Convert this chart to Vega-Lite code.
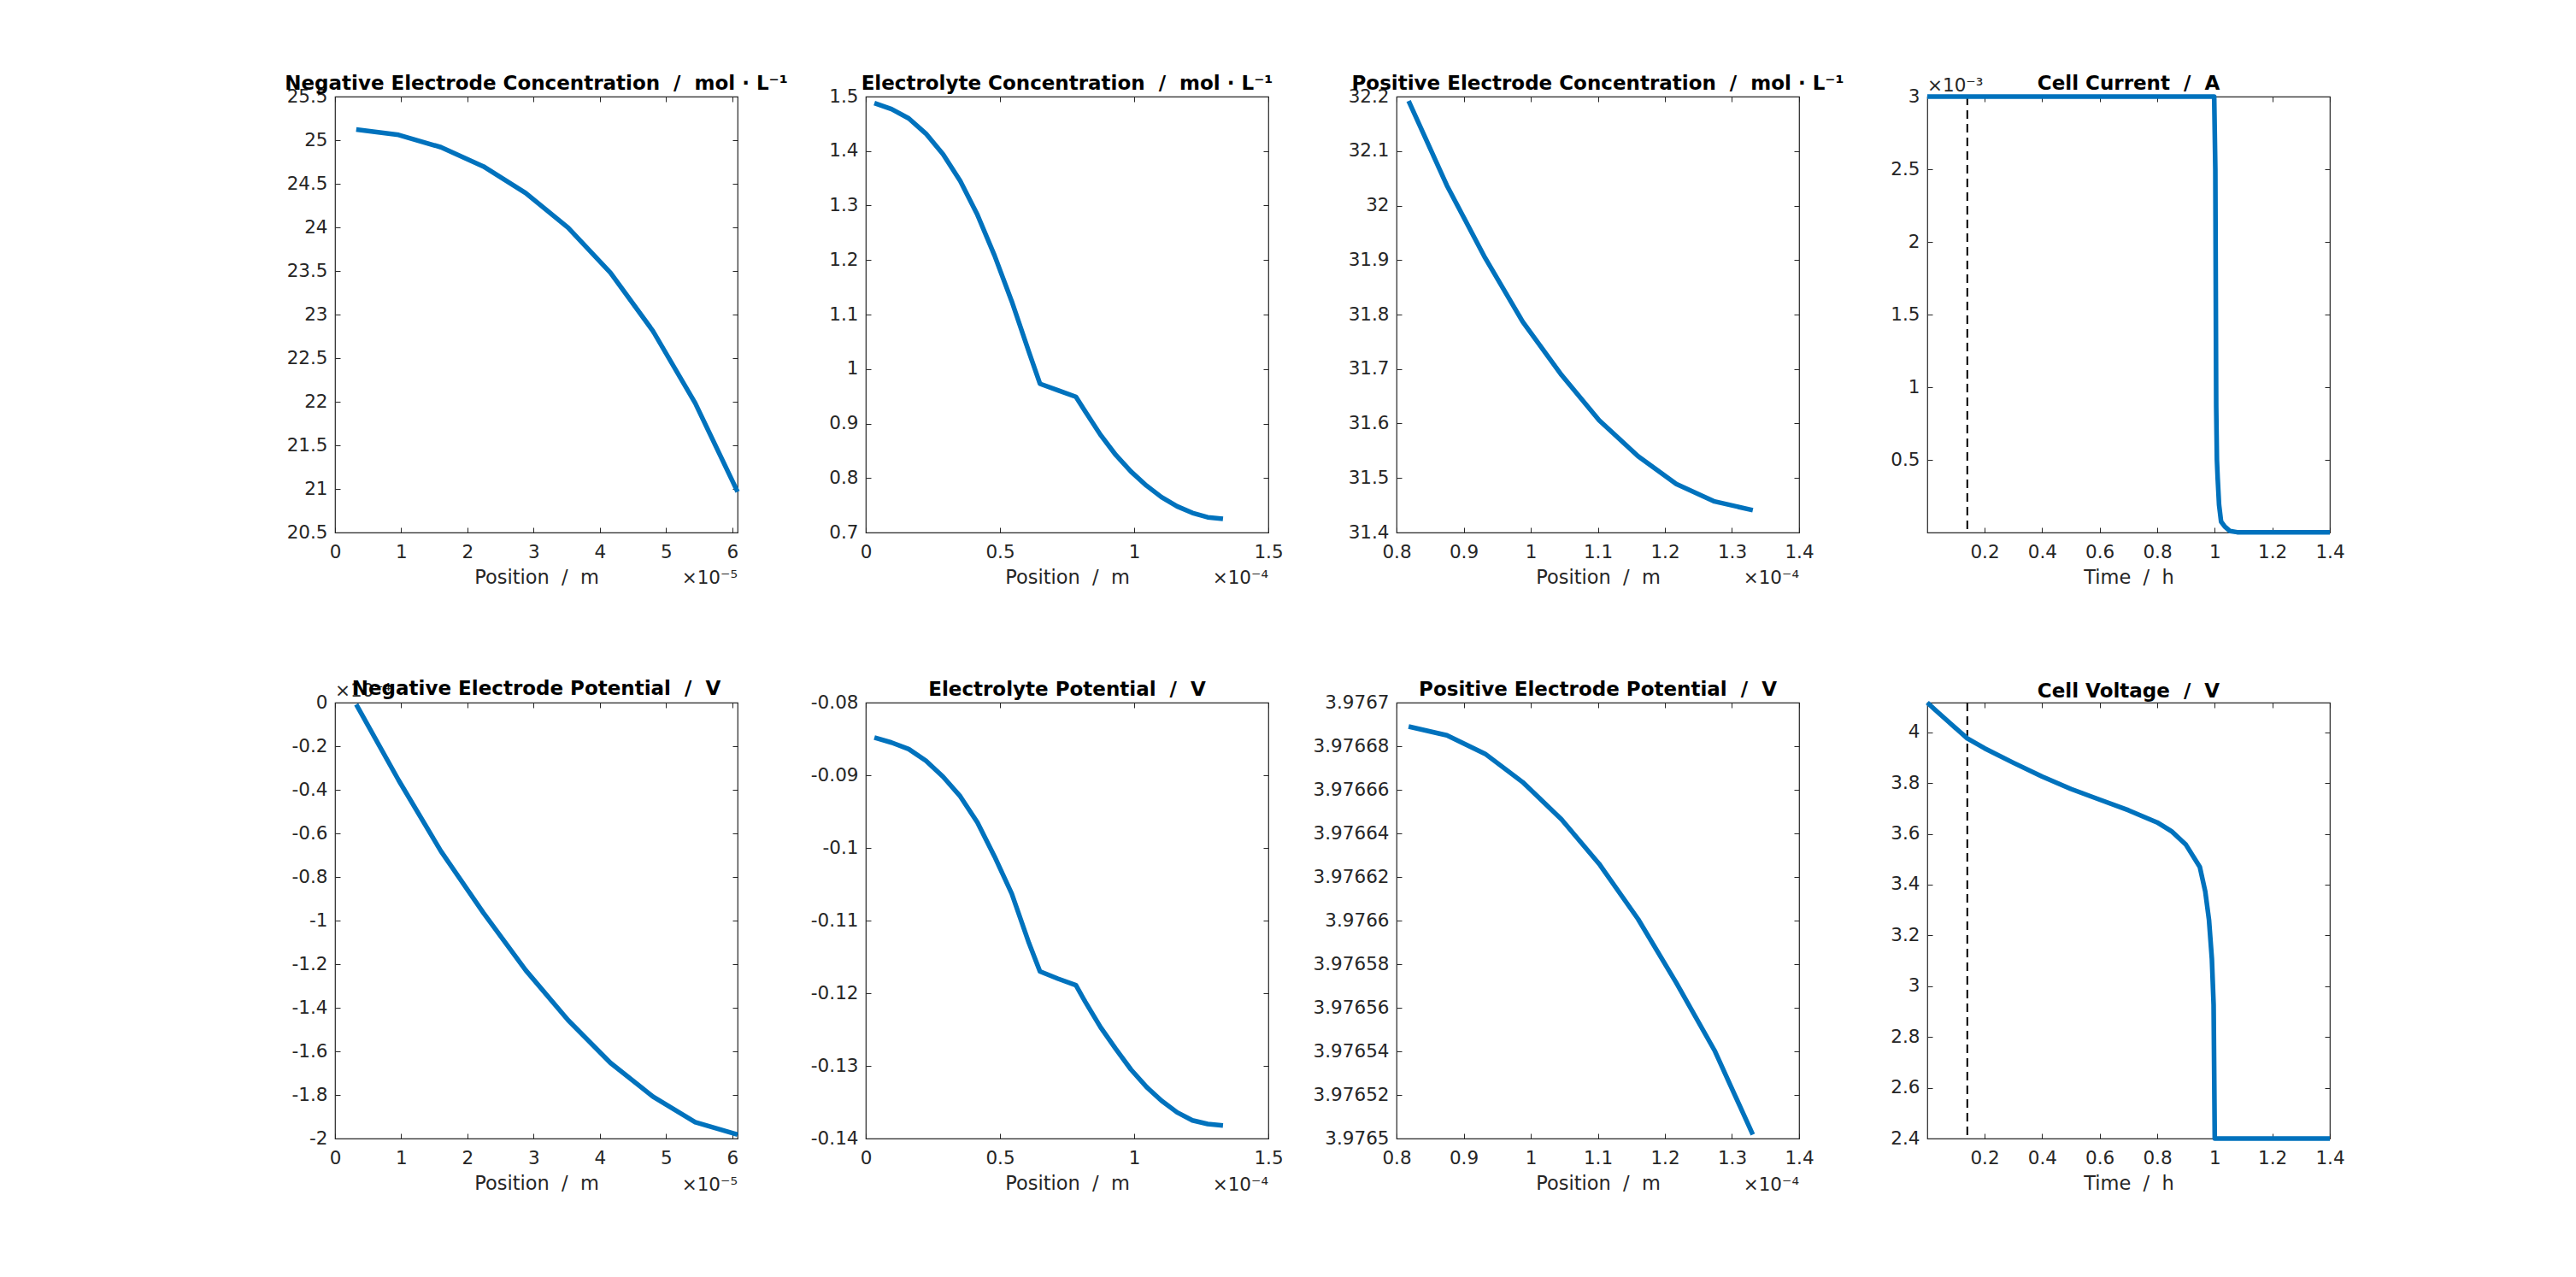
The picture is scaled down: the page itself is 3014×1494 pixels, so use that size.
{
  "$schema": "https://vega.github.io/schema/vega-lite/v6.json",
  "background": "white",
  "autosize": {"type": "pad"},
  "padding": {"left": 332, "top": 85, "right": 10, "bottom": 10},
  "columns": 4,
  "bounds": "flush",
  "spacing": {"row": 199, "column": 150},
  "config": {
    "font": "DejaVu Sans",
    "view": {"stroke": "#262626", "strokeWidth": 1.2},
    "axis": {
      "domain": false, "grid": false, "ticks": true, "tickSize": -6, "tickColor": "#262626", "tickWidth": 1,
      "labelFont": "DejaVu Sans", "labelFontSize": 21.5, "labelColor": "#262626",
      "labelFlush": false, "labelOverlap": false, "labelBound": false,
      "titleFont": "DejaVu Sans", "titleFontSize": 22.5, "titleFontWeight": "normal", "titleColor": "#262626"
    },
    "axisBottom": {"labelPadding": 18, "titlePadding": 8},
    "axisLeft": {"labelPadding": 15},
    "title": {"font": "DejaVu Sans", "fontSize": 23, "fontWeight": "bold", "color": "black", "anchor": "middle", "frame": "group", "baseline": "alphabetic", "offset": -7.5},
    "text": {"font": "DejaVu Sans", "fontSize": 21.5, "color": "#262626"},
    "line": {"color": "#0072BD", "strokeWidth": 5.5, "strokeJoin": "round"}
  },
  "datasets": {
    "negConc": [
      {"position": 3.2e-6, "concentration": 25.122},
      {"position": 9.6e-6, "concentration": 25.061},
      {"position": 1.6e-5, "concentration": 24.919},
      {"position": 2.24e-5, "concentration": 24.699},
      {"position": 2.88e-5, "concentration": 24.394},
      {"position": 3.52e-5, "concentration": 23.996},
      {"position": 4.16e-5, "concentration": 23.48},
      {"position": 4.8e-5, "concentration": 22.813},
      {"position": 5.44e-5, "concentration": 21.984},
      {"position": 6.08e-5, "concentration": 20.967}
    ],
    "elyteConc": [
      {"position": 3.2e-6, "concentration": 1.488},
      {"position": 9.6e-6, "concentration": 1.477},
      {"position": 1.6e-5, "concentration": 1.46},
      {"position": 2.24e-5, "concentration": 1.432},
      {"position": 2.88e-5, "concentration": 1.394},
      {"position": 3.52e-5, "concentration": 1.345},
      {"position": 4.16e-5, "concentration": 1.283},
      {"position": 4.8e-5, "concentration": 1.208},
      {"position": 5.44e-5, "concentration": 1.124},
      {"position": 6.08e-5, "concentration": 1.031},
      {"position": 6.49e-5, "concentration": 0.973},
      {"position": 7.16e-5, "concentration": 0.961},
      {"position": 7.83e-5, "concentration": 0.949},
      {"position": 8.18e-5, "concentration": 0.922},
      {"position": 8.75e-5, "concentration": 0.879},
      {"position": 9.32e-5, "concentration": 0.842},
      {"position": 9.88e-5, "concentration": 0.812},
      {"position": 1.046e-4, "concentration": 0.786},
      {"position": 1.102e-4, "concentration": 0.765},
      {"position": 1.16e-4, "concentration": 0.748},
      {"position": 1.217e-4, "concentration": 0.736},
      {"position": 1.274e-4, "concentration": 0.728},
      {"position": 1.331e-4, "concentration": 0.725}
    ],
    "posConc": [
      {"position": 8.18e-5, "concentration": 32.192},
      {"position": 8.75e-5, "concentration": 32.037},
      {"position": 9.32e-5, "concentration": 31.904},
      {"position": 9.88e-5, "concentration": 31.787},
      {"position": 1.046e-4, "concentration": 31.689},
      {"position": 1.102e-4, "concentration": 31.606},
      {"position": 1.16e-4, "concentration": 31.54},
      {"position": 1.217e-4, "concentration": 31.489},
      {"position": 1.274e-4, "concentration": 31.457},
      {"position": 1.331e-4, "concentration": 31.441}
    ],
    "current": [
      {"time": 0.001, "current": 0.003},
      {"time": 0.998, "current": 0.003},
      {"time": 1.002, "current": 0.0025},
      {"time": 1.0037, "current": 0.0016},
      {"time": 1.005, "current": 0.00087},
      {"time": 1.0075, "current": 0.0005},
      {"time": 1.01, "current": 0.00038},
      {"time": 1.015, "current": 0.00019},
      {"time": 1.022, "current": 0.000075},
      {"time": 1.035, "current": 0.00004},
      {"time": 1.053, "current": 0.00001},
      {"time": 1.078, "current": 0.000002},
      {"time": 1.4, "current": 0.000001}
    ],
    "negPot": [
      {"position": 3.2e-6, "potential": -8e-7},
      {"position": 9.6e-6, "potential": -3.56e-5},
      {"position": 1.6e-5, "potential": -6.82e-5},
      {"position": 2.24e-5, "potential": -9.64e-5},
      {"position": 2.88e-5, "potential": -1.228e-4},
      {"position": 3.52e-5, "potential": -1.457e-4},
      {"position": 4.16e-5, "potential": -1.653e-4},
      {"position": 4.8e-5, "potential": -1.807e-4},
      {"position": 5.44e-5, "potential": -1.925e-4},
      {"position": 6.08e-5, "potential": -1.982e-4}
    ],
    "elytePot": [
      {"position": 3.2e-6, "potential": -0.0848},
      {"position": 9.6e-6, "potential": -0.0855},
      {"position": 1.6e-5, "potential": -0.0864},
      {"position": 2.24e-5, "potential": -0.088},
      {"position": 2.88e-5, "potential": -0.0902},
      {"position": 3.52e-5, "potential": -0.0929},
      {"position": 4.16e-5, "potential": -0.0965},
      {"position": 4.8e-5, "potential": -0.1012},
      {"position": 5.44e-5, "potential": -0.1063},
      {"position": 6.08e-5, "potential": -0.1131},
      {"position": 6.49e-5, "potential": -0.117},
      {"position": 7.16e-5, "potential": -0.118},
      {"position": 7.83e-5, "potential": -0.1189},
      {"position": 8.18e-5, "potential": -0.1212},
      {"position": 8.75e-5, "potential": -0.1247},
      {"position": 9.32e-5, "potential": -0.1277},
      {"position": 9.88e-5, "potential": -0.1305},
      {"position": 1.046e-4, "potential": -0.1329},
      {"position": 1.102e-4, "potential": -0.1348},
      {"position": 1.16e-4, "potential": -0.1364},
      {"position": 1.217e-4, "potential": -0.1375},
      {"position": 1.274e-4, "potential": -0.138},
      {"position": 1.331e-4, "potential": -0.1382}
    ],
    "posPot": [
      {"position": 8.18e-5, "potential": 3.976689},
      {"position": 8.75e-5, "potential": 3.976685},
      {"position": 9.32e-5, "potential": 3.9766765},
      {"position": 9.88e-5, "potential": 3.9766635},
      {"position": 1.046e-4, "potential": 3.9766464},
      {"position": 1.102e-4, "potential": 3.976626},
      {"position": 1.16e-4, "potential": 3.9766007},
      {"position": 1.217e-4, "potential": 3.9765714},
      {"position": 1.274e-4, "potential": 3.9765404},
      {"position": 1.331e-4, "potential": 3.9765018}
    ],
    "voltage": [
      {"time": 0.001, "voltage": 4.117},
      {"time": 0.03, "voltage": 4.087},
      {"time": 0.08, "voltage": 4.036},
      {"time": 0.14, "voltage": 3.976},
      {"time": 0.2, "voltage": 3.937},
      {"time": 0.3, "voltage": 3.88},
      {"time": 0.4, "voltage": 3.826},
      {"time": 0.5, "voltage": 3.777},
      {"time": 0.6, "voltage": 3.735},
      {"time": 0.7, "voltage": 3.693},
      {"time": 0.8, "voltage": 3.645},
      {"time": 0.85, "voltage": 3.61},
      {"time": 0.9, "voltage": 3.557},
      {"time": 0.948, "voltage": 3.47},
      {"time": 0.967, "voltage": 3.373},
      {"time": 0.98, "voltage": 3.261},
      {"time": 0.99, "voltage": 3.108},
      {"time": 0.996, "voltage": 2.927},
      {"time": 1.0, "voltage": 2.4},
      {"time": 1.4, "voltage": 2.4}
    ],
    "marker": [{"time": 0.14}]
  },
  "concat": [
    {
      "width": 471, "height": 510,
      "title": {"text": "Negative Electrode Concentration\u00a0\u00a0/\u00a0\u00a0mol · L⁻¹"},
      "data": {"name": "negConc"},
      "layer": [
        {"mark": {"type": "line"},
         "encoding": {
           "x": {"field": "position", "type": "quantitative", "scale": {"domain": [0, 6.08e-5], "nice": false, "zero": false},
                 "axis": {"orient": "bottom", "values": [0, 1e-5, 2e-5, 3e-5, 4e-5, 5e-5, 6e-5], "labelExpr": "format(datum.value*1e5, '.4~g')", "title": "Position\u00a0\u00a0/\u00a0\u00a0m"}},
           "y": {"field": "concentration", "type": "quantitative", "scale": {"domain": [20.5, 25.5], "nice": false, "zero": false},
                 "axis": {"orient": "left", "values": [20.5, 21, 21.5, 22, 22.5, 23, 23.5, 24, 24.5, 25, 25.5], "labelExpr": "format(datum.value, '.4~g')", "title": null}}
         }},
        {"mark": {"type": "line", "strokeOpacity": 0},
         "encoding": {
           "x": {"field": "position", "type": "quantitative", "axis": {"orient": "top", "values": [0, 1e-5, 2e-5, 3e-5, 4e-5, 5e-5, 6e-5], "labels": false, "title": null}},
           "y": {"field": "concentration", "type": "quantitative", "axis": {"orient": "right", "values": [20.5, 21, 21.5, 22, 22.5, 23, 23.5, 24, 24.5, 25, 25.5], "labels": false, "title": null}}
         }},
        {"data": {"values": [{"label": "×10⁻⁵"}]},
         "mark": {"type": "text", "align": "right", "baseline": "alphabetic", "dy": 60},
         "encoding": {"x": {"datum": 6.08e-5, "type": "quantitative", "axis": null}, "y": {"datum": 20.5, "type": "quantitative", "axis": null}, "text": {"field": "label"}}}
      ],
      "resolve": {"axis": {"x": "independent", "y": "independent"}}
    },
    {
      "width": 471, "height": 510,
      "title": {"text": "Electrolyte Concentration\u00a0\u00a0/\u00a0\u00a0mol · L⁻¹"},
      "data": {"name": "elyteConc"},
      "layer": [
        {"mark": {"type": "line"},
         "encoding": {
           "x": {"field": "position", "type": "quantitative", "scale": {"domain": [0, 1.5e-4], "nice": false, "zero": false},
                 "axis": {"orient": "bottom", "values": [0, 5e-5, 1e-4, 1.5e-4], "labelExpr": "format(datum.value*1e4, '.4~g')", "title": "Position\u00a0\u00a0/\u00a0\u00a0m"}},
           "y": {"field": "concentration", "type": "quantitative", "scale": {"domain": [0.7, 1.5], "nice": false, "zero": false},
                 "axis": {"orient": "left", "values": [0.7, 0.8, 0.9, 1, 1.1, 1.2, 1.3, 1.4, 1.5], "labelExpr": "format(datum.value, '.4~g')", "title": null}}
         }},
        {"mark": {"type": "line", "strokeOpacity": 0},
         "encoding": {
           "x": {"field": "position", "type": "quantitative", "axis": {"orient": "top", "values": [0, 5e-5, 1e-4, 1.5e-4], "labels": false, "title": null}},
           "y": {"field": "concentration", "type": "quantitative", "axis": {"orient": "right", "values": [0.7, 0.8, 0.9, 1, 1.1, 1.2, 1.3, 1.4, 1.5], "labels": false, "title": null}}
         }},
        {"data": {"values": [{"label": "×10⁻⁴"}]},
         "mark": {"type": "text", "align": "right", "baseline": "alphabetic", "dy": 60},
         "encoding": {"x": {"datum": 1.5e-4, "type": "quantitative", "axis": null}, "y": {"datum": 0.7, "type": "quantitative", "axis": null}, "text": {"field": "label"}}}
      ],
      "resolve": {"axis": {"x": "independent", "y": "independent"}}
    },
    {
      "width": 471, "height": 510,
      "title": {"text": "Positive Electrode Concentration\u00a0\u00a0/\u00a0\u00a0mol · L⁻¹"},
      "data": {"name": "posConc"},
      "layer": [
        {"mark": {"type": "line"},
         "encoding": {
           "x": {"field": "position", "type": "quantitative", "scale": {"domain": [8e-5, 1.4e-4], "nice": false, "zero": false},
                 "axis": {"orient": "bottom", "values": [8e-5, 9e-5, 1e-4, 1.1e-4, 1.2e-4, 1.3e-4, 1.4e-4], "labelExpr": "format(datum.value*1e4, '.4~g')", "title": "Position\u00a0\u00a0/\u00a0\u00a0m"}},
           "y": {"field": "concentration", "type": "quantitative", "scale": {"domain": [31.4, 32.2], "nice": false, "zero": false},
                 "axis": {"orient": "left", "values": [31.4, 31.5, 31.6, 31.7, 31.8, 31.9, 32, 32.1, 32.2], "labelExpr": "format(datum.value, '.4~g')", "title": null}}
         }},
        {"mark": {"type": "line", "strokeOpacity": 0},
         "encoding": {
           "x": {"field": "position", "type": "quantitative", "axis": {"orient": "top", "values": [8e-5, 9e-5, 1e-4, 1.1e-4, 1.2e-4, 1.3e-4, 1.4e-4], "labels": false, "title": null}},
           "y": {"field": "concentration", "type": "quantitative", "axis": {"orient": "right", "values": [31.4, 31.5, 31.6, 31.7, 31.8, 31.9, 32, 32.1, 32.2], "labels": false, "title": null}}
         }},
        {"data": {"values": [{"label": "×10⁻⁴"}]},
         "mark": {"type": "text", "align": "right", "baseline": "alphabetic", "dy": 60},
         "encoding": {"x": {"datum": 1.4e-4, "type": "quantitative", "axis": null}, "y": {"datum": 31.4, "type": "quantitative", "axis": null}, "text": {"field": "label"}}}
      ],
      "resolve": {"axis": {"x": "independent", "y": "independent"}}
    },
    {
      "width": 471, "height": 510,
      "title": {"text": "Cell Current\u00a0\u00a0/\u00a0\u00a0A", "offset": -20},
      "data": {"name": "current"},
      "layer": [
        {"data": {"name": "marker"},
         "mark": {"type": "rule", "color": "black", "strokeDash": [10, 6], "strokeWidth": 2},
         "encoding": {"x": {"field": "time", "type": "quantitative", "axis": null}}},
        {"mark": {"type": "line"},
         "encoding": {
           "x": {"field": "time", "type": "quantitative", "scale": {"domain": [0.001, 1.4], "nice": false, "zero": false},
                 "axis": {"orient": "bottom", "values": [0.2, 0.4, 0.6, 0.8, 1, 1.2, 1.4], "labelExpr": "format(datum.value, '.4~g')", "title": "Time\u00a0\u00a0/\u00a0\u00a0h"}},
           "y": {"field": "current", "type": "quantitative", "scale": {"domain": [0, 0.003], "nice": false, "zero": false},
                 "axis": {"orient": "left", "values": [0.0005, 0.001, 0.0015, 0.002, 0.0025, 0.003], "labelExpr": "format(datum.value*1e3, '.4~g')", "title": null}}
         }},
        {"mark": {"type": "line", "strokeOpacity": 0},
         "encoding": {
           "x": {"field": "time", "type": "quantitative", "axis": {"orient": "top", "values": [0.2, 0.4, 0.6, 0.8, 1, 1.2, 1.4], "labels": false, "title": null}},
           "y": {"field": "current", "type": "quantitative", "axis": {"orient": "right", "values": [0.0005, 0.001, 0.0015, 0.002, 0.0025, 0.003], "labels": false, "title": null}}
         }},
        {"data": {"values": [{"label": "×10⁻³"}]},
         "mark": {"type": "text", "align": "left", "baseline": "alphabetic", "dy": -6.5},
         "encoding": {"x": {"datum": 0.001, "type": "quantitative", "axis": null}, "y": {"datum": 0.003, "type": "quantitative", "axis": null}, "text": {"field": "label"}}}
      ],
      "resolve": {"axis": {"x": "independent", "y": "independent"}}
    },
    {
      "width": 471, "height": 510,
      "title": {"text": "Negative Electrode Potential\u00a0\u00a0/\u00a0\u00a0V", "offset": -20},
      "data": {"name": "negPot"},
      "layer": [
        {"mark": {"type": "line"},
         "encoding": {
           "x": {"field": "position", "type": "quantitative", "scale": {"domain": [0, 6.08e-5], "nice": false, "zero": false},
                 "axis": {"orient": "bottom", "values": [0, 1e-5, 2e-5, 3e-5, 4e-5, 5e-5, 6e-5], "labelExpr": "format(datum.value*1e5, '.4~g')", "title": "Position\u00a0\u00a0/\u00a0\u00a0m"}},
           "y": {"field": "potential", "type": "quantitative", "scale": {"domain": [-0.0002, 0], "nice": false, "zero": false},
                 "axis": {"orient": "left", "values": [-0.0002, -0.00018, -0.00016, -0.00014, -0.00012, -0.0001, -0.00008, -0.00006, -0.00004, -0.00002, 0], "labelExpr": "replace(format(datum.value*1e4, '.4~g'), '−', '-')", "title": null}}
         }},
        {"mark": {"type": "line", "strokeOpacity": 0},
         "encoding": {
           "x": {"field": "position", "type": "quantitative", "axis": {"orient": "top", "values": [0, 1e-5, 2e-5, 3e-5, 4e-5, 5e-5, 6e-5], "labels": false, "title": null}},
           "y": {"field": "potential", "type": "quantitative", "axis": {"orient": "right", "values": [-0.0002, -0.00018, -0.00016, -0.00014, -0.00012, -0.0001, -0.00008, -0.00006, -0.00004, -0.00002, 0], "labels": false, "title": null}}
         }},
        {"data": {"values": [{"label": "×10⁻⁵"}]},
         "mark": {"type": "text", "align": "right", "baseline": "alphabetic", "dy": 61},
         "encoding": {"x": {"datum": 6.08e-5, "type": "quantitative", "axis": null}, "y": {"datum": -0.0002, "type": "quantitative", "axis": null}, "text": {"field": "label"}}},
        {"data": {"values": [{"label": "×10⁻⁴"}]},
         "mark": {"type": "text", "align": "left", "baseline": "alphabetic", "dy": -7},
         "encoding": {"x": {"datum": 0, "type": "quantitative", "axis": null}, "y": {"datum": 0, "type": "quantitative", "axis": null}, "text": {"field": "label"}}}
      ],
      "resolve": {"axis": {"x": "independent", "y": "independent"}}
    },
    {
      "width": 471, "height": 510,
      "title": {"text": "Electrolyte Potential\u00a0\u00a0/\u00a0\u00a0V"},
      "data": {"name": "elytePot"},
      "layer": [
        {"mark": {"type": "line"},
         "encoding": {
           "x": {"field": "position", "type": "quantitative", "scale": {"domain": [0, 1.5e-4], "nice": false, "zero": false},
                 "axis": {"orient": "bottom", "values": [0, 5e-5, 1e-4, 1.5e-4], "labelExpr": "format(datum.value*1e4, '.4~g')", "title": "Position\u00a0\u00a0/\u00a0\u00a0m"}},
           "y": {"field": "potential", "type": "quantitative", "scale": {"domain": [-0.14, -0.08], "nice": false, "zero": false},
                 "axis": {"orient": "left", "values": [-0.14, -0.13, -0.12, -0.11, -0.1, -0.09, -0.08], "labelExpr": "replace(format(datum.value, '.4~g'), '−', '-')", "title": null}}
         }},
        {"mark": {"type": "line", "strokeOpacity": 0},
         "encoding": {
           "x": {"field": "position", "type": "quantitative", "axis": {"orient": "top", "values": [0, 5e-5, 1e-4, 1.5e-4], "labels": false, "title": null}},
           "y": {"field": "potential", "type": "quantitative", "axis": {"orient": "right", "values": [-0.14, -0.13, -0.12, -0.11, -0.1, -0.09, -0.08], "labels": false, "title": null}}
         }},
        {"data": {"values": [{"label": "×10⁻⁴"}]},
         "mark": {"type": "text", "align": "right", "baseline": "alphabetic", "dy": 61},
         "encoding": {"x": {"datum": 1.5e-4, "type": "quantitative", "axis": null}, "y": {"datum": -0.14, "type": "quantitative", "axis": null}, "text": {"field": "label"}}}
      ],
      "resolve": {"axis": {"x": "independent", "y": "independent"}}
    },
    {
      "width": 471, "height": 510,
      "title": {"text": "Positive Electrode Potential\u00a0\u00a0/\u00a0\u00a0V"},
      "data": {"name": "posPot"},
      "layer": [
        {"mark": {"type": "line"},
         "encoding": {
           "x": {"field": "position", "type": "quantitative", "scale": {"domain": [8e-5, 1.4e-4], "nice": false, "zero": false},
                 "axis": {"orient": "bottom", "values": [8e-5, 9e-5, 1e-4, 1.1e-4, 1.2e-4, 1.3e-4, 1.4e-4], "labelExpr": "format(datum.value*1e4, '.4~g')", "title": "Position\u00a0\u00a0/\u00a0\u00a0m"}},
           "y": {"field": "potential", "type": "quantitative", "scale": {"domain": [3.9765, 3.9767], "nice": false, "zero": false},
                 "axis": {"orient": "left", "values": [3.9765, 3.97652, 3.97654, 3.97656, 3.97658, 3.9766, 3.97662, 3.97664, 3.97666, 3.97668, 3.9767], "labelExpr": "format(datum.value, '.6~g')", "title": null}}
         }},
        {"mark": {"type": "line", "strokeOpacity": 0},
         "encoding": {
           "x": {"field": "position", "type": "quantitative", "axis": {"orient": "top", "values": [8e-5, 9e-5, 1e-4, 1.1e-4, 1.2e-4, 1.3e-4, 1.4e-4], "labels": false, "title": null}},
           "y": {"field": "potential", "type": "quantitative", "axis": {"orient": "right", "values": [3.9765, 3.97652, 3.97654, 3.97656, 3.97658, 3.9766, 3.97662, 3.97664, 3.97666, 3.97668, 3.9767], "labels": false, "title": null}}
         }},
        {"data": {"values": [{"label": "×10⁻⁴"}]},
         "mark": {"type": "text", "align": "right", "baseline": "alphabetic", "dy": 61},
         "encoding": {"x": {"datum": 1.4e-4, "type": "quantitative", "axis": null}, "y": {"datum": 3.9765, "type": "quantitative", "axis": null}, "text": {"field": "label"}}}
      ],
      "resolve": {"axis": {"x": "independent", "y": "independent"}}
    },
    {
      "width": 471, "height": 510,
      "title": {"text": "Cell Voltage\u00a0\u00a0/\u00a0\u00a0V", "offset": -2},
      "data": {"name": "voltage"},
      "layer": [
        {"data": {"name": "marker"},
         "mark": {"type": "rule", "color": "black", "strokeDash": [10, 6], "strokeWidth": 2},
         "encoding": {"x": {"field": "time", "type": "quantitative", "axis": null}}},
        {"mark": {"type": "line"},
         "encoding": {
           "x": {"field": "time", "type": "quantitative", "scale": {"domain": [0.001, 1.4], "nice": false, "zero": false},
                 "axis": {"orient": "bottom", "values": [0.2, 0.4, 0.6, 0.8, 1, 1.2, 1.4], "labelExpr": "format(datum.value, '.4~g')", "title": "Time\u00a0\u00a0/\u00a0\u00a0h"}},
           "y": {"field": "voltage", "type": "quantitative", "scale": {"domain": [2.4, 4.117], "nice": false, "zero": false},
                 "axis": {"orient": "left", "values": [2.4, 2.6, 2.8, 3, 3.2, 3.4, 3.6, 3.8, 4], "labelExpr": "format(datum.value, '.4~g')", "title": null}}
         }},
        {"mark": {"type": "line", "strokeOpacity": 0},
         "encoding": {
           "x": {"field": "time", "type": "quantitative", "axis": {"orient": "top", "values": [0.2, 0.4, 0.6, 0.8, 1, 1.2, 1.4], "labels": false, "title": null}},
           "y": {"field": "voltage", "type": "quantitative", "axis": {"orient": "right", "values": [2.4, 2.6, 2.8, 3, 3.2, 3.4, 3.6, 3.8, 4], "labels": false, "title": null}}
         }}
      ],
      "resolve": {"axis": {"x": "independent", "y": "independent"}}
    }
  ]
}
